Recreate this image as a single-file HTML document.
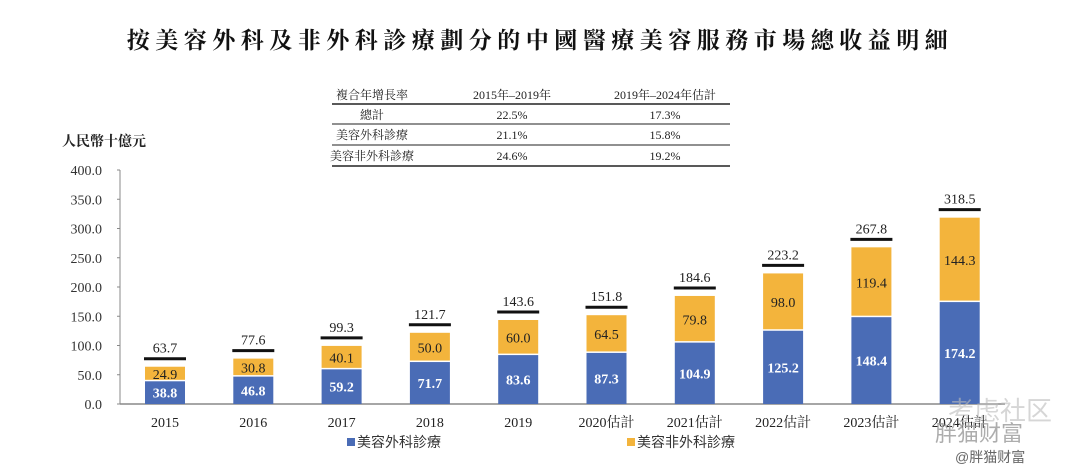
<!DOCTYPE html>
<html><head><meta charset="utf-8"><style>
body{margin:0;background:#fff;width:1080px;height:470px;overflow:hidden;position:relative;font-family:"Liberation Serif","Noto Serif CJK SC",serif}
.title{position:absolute;top:22px;left:0;width:1080px;text-align:center;font-size:23px;font-weight:bold;letter-spacing:5.5px;color:#111;font-family:"Liberation Serif","Noto Serif CJK SC",serif}
</style></head><body>
<div class="title">按美容外科及非外科診療劃分的中國醫療美容服務市場總收益明細</div>
<svg id="chart" width="1080" height="470" style="position:absolute;left:0;top:0">
<g id="table" font-size="12" fill="#222" text-anchor="middle">
<text x="372" y="99">複合年增長率</text><text x="512" y="99">2015年–2019年</text><text x="665" y="99">2019年–2024年估計</text>
<line x1="332" x2="730" y1="104" y2="104" stroke="#222" stroke-width="1.5"/>
<text x="372" y="119">總計</text><text x="512" y="119">22.5%</text><text x="665" y="119">17.3%</text>
<line x1="332" x2="730" y1="124" y2="124" stroke="#222" stroke-width="1"/>
<text x="372" y="139">美容外科診療</text><text x="512" y="139">21.1%</text><text x="665" y="139">15.8%</text>
<line x1="332" x2="730" y1="145" y2="145" stroke="#222" stroke-width="1"/>
<text x="372" y="160">美容非外科診療</text><text x="512" y="160">24.6%</text><text x="665" y="160">19.2%</text>
<line x1="332" x2="730" y1="166" y2="166" stroke="#222" stroke-width="1.5"/>
</g>
<text x="62" y="146" font-size="14" font-weight="bold" fill="#222">人民幣十億元</text>
<g id="axes"></g><g id="bars"></g>
<g font-size="14" fill="#333" font-family="Liberation Sans,Noto Sans CJK SC,sans-serif">
<rect x="347" y="438" width="8" height="8" fill="#4a6cb6"/>
<text x="357" y="447">美容外科診療</text>
<rect x="627" y="438" width="8" height="8" fill="#f3b43c"/>
<text x="637" y="447">美容非外科診療</text>
</g>
<g fill="#bbb" font-family="Liberation Sans,Noto Sans CJK SC,sans-serif">
<text x="948" y="420" font-size="26" opacity="0.6">考虑社区</text>
<text x="935" y="441" font-size="22" fill="#999" opacity="0.8">胖猫财富</text>
<text x="955" y="462" font-size="14" fill="#666">@胖猫财富</text>
</g>
</svg>
<script>
const categories=["2015","2016","2017","2018","2019","2020估計","2021估計","2022估計","2023估計","2024估計"];
const surgical=[38.8,46.8,59.2,71.7,83.6,87.3,104.9,125.2,148.4,174.2];
const nonSurgical=[24.9,30.8,40.1,50.0,60.0,64.5,79.8,98.0,119.4,144.3];
const totals=[63.7,77.6,99.3,121.7,143.6,151.8,184.6,223.2,267.8,318.5];
const yTicks=[0,50,100,150,200,250,300,350,400];
const NS="http://www.w3.org/2000/svg";
const y0=404,yk=234/400,x0=120,step=88.3,bw=40;
const y=v=>y0-v*yk, xc=i=>x0+45+i*step;
function mk(tag,attrs,parent,txt){const e=document.createElementNS(NS,tag);for(const k in attrs)e.setAttribute(k,attrs[k]);if(txt!=null)e.textContent=txt;parent.appendChild(e);return e;}
const ax=document.getElementById('axes'),bars=document.getElementById('bars');
const yl=mk('line',{x1:x0,x2:x0,y1:y(400),y2:y0,stroke:'#888','stroke-width':1},ax);


const xl=mk('line',{x1:x0,x2:1005,y1:y0,y2:y0,stroke:'#888','stroke-width':1.5},ax);


yTicks.forEach(t=>{
 const e=mk('text',{x:102,y:y(t)+5,'text-anchor':'end','font-size':14,fill:'#333'},ax,t.toFixed(1));
 
 
 mk('line',{x1:x0-3,x2:x0,y1:y(t),y2:y(t),stroke:'#888'},ax);
});
categories.forEach((c,i)=>{
 const cx=xc(i),s=surgical[i],n=nonSurgical[i],t=totals[i];
 const b1=mk('rect',{x:cx-bw/2,y:y(s),width:bw,height:y0-y(s),fill:'#4a6cb6'},bars);
 
 
 const b2=mk('rect',{x:cx-bw/2,y:y(s+n),width:bw,height:y(s)-y(s+n)-1.5,fill:'#f3b43c'},bars);
 
 
 const l1=mk('text',{x:cx,y:(y(s)+y0)/2+5,'text-anchor':'middle','font-size':14,'font-weight':'bold',fill:'#fff'},bars,s.toFixed(1));
 
 
 const l2=mk('text',{x:cx,y:(y(s)+y(s+n))/2+5,'text-anchor':'middle','font-size':14,fill:'#222'},bars,n.toFixed(1));
 
 
 const tl=mk('line',{x1:cx-21,x2:cx+21,y1:y(t)-8,y2:y(t)-8,stroke:'#111','stroke-width':3},bars);
 
 
 const tt=mk('text',{x:cx,y:y(t)-14,'text-anchor':'middle','font-size':14,fill:'#222'},bars,t.toFixed(1));
 
 
 const xl2=mk('text',{x:cx,y:427,'text-anchor':'middle','font-size':14,fill:'#222'},ax,c);
 
 
});
</script>
</body></html>
